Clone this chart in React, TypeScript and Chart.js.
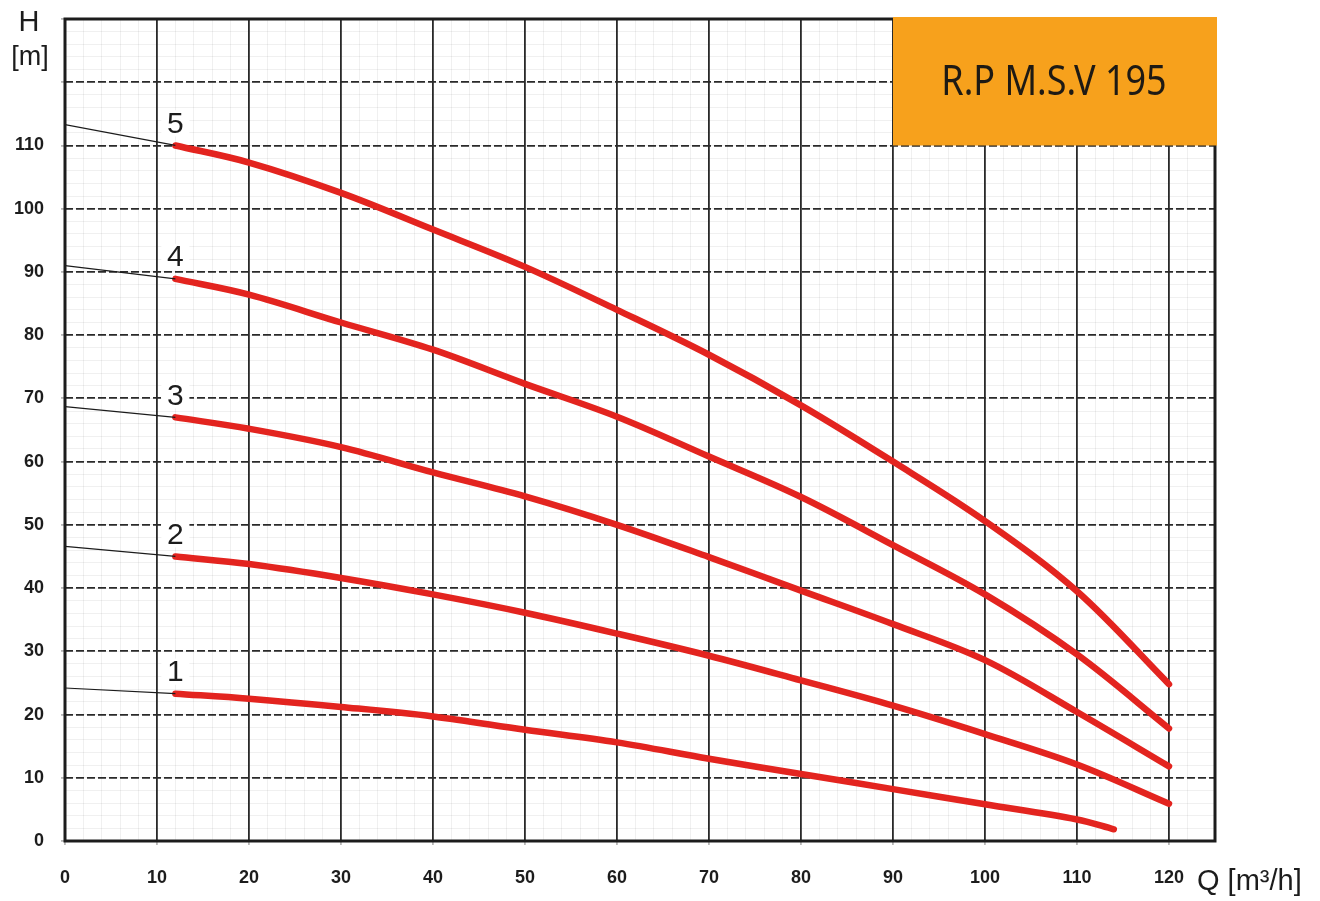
import { useEffect, useRef } from "react";
import { Chart, registerables } from "chart.js";

Chart.register(...registerables);

// Q [m³/h] sample points
const flowQ = [12, 20, 30, 40, 50, 60, 70, 80, 90, 100, 110, 120];
const flowQ1 = [12, 20, 30, 40, 50, 60, 70, 80, 90, 100, 110, 114];

// H [m] per stage count
const head1 = [23.3, 22.5, 21.2, 19.7, 17.6, 15.6, 13.0, 10.6, 8.2, 5.8, 3.4, 1.85];
const head2 = [45.0, 43.8, 41.6, 39.0, 36.1, 32.8, 29.3, 25.4, 21.4, 16.9, 12.1, 5.9];
const head3 = [67.0, 65.2, 62.3, 58.3, 54.5, 50.0, 44.9, 39.6, 34.3, 28.6, 20.4, 11.8];
const head4 = [88.9, 86.4, 82.0, 77.7, 72.3, 67.1, 60.8, 54.4, 46.8, 39.0, 29.5, 17.8];
const head5 = [110.0, 107.3, 102.5, 96.7, 90.8, 84.0, 76.9, 68.9, 60.0, 50.6, 39.5, 24.8];

// head at Q = 0 (thin black extension)
const shutoffHead = [24.2, 46.6, 68.7, 91.0, 113.3];
const curveNames = ["1", "2", "3", "4", "5"];

const xTickValues = [0, 10, 20, 30, 40, 50, 60, 70, 80, 90, 100, 110, 120];
const yTickValues = [0, 10, 20, 30, 40, 50, 60, 70, 80, 90, 100, 110, 120, 130];
const xMin = 0;
const xMax = 125;
const yMin = 0;
const yMax = 130;
const yLabelMax = 110;
const modelName = "R.P M.S.V 195";
const modelBoxQ = 90;
const modelBoxH = 110;

const RED = "#e3241f";
const INK = "#1c1c1c";

const curves = [
  { q: flowQ1, h: head1 },
  { q: flowQ, h: head2 },
  { q: flowQ, h: head3 },
  { q: flowQ, h: head4 },
  { q: flowQ, h: head5 },
];

const overlay = {
  id: "sheetOverlay",
  afterDraw(chart: Chart) {
    const { ctx, chartArea: a, scales } = chart;
    const xs = scales.x;
    const ys = scales.y;
    ctx.save();

    // frame
    ctx.strokeStyle = INK;
    ctx.lineWidth = 3;
    ctx.strokeRect(a.left, a.top, a.right - a.left, a.bottom - a.top);

    // model box
    const bx = xs.getPixelForValue(modelBoxQ);
    const by = ys.getPixelForValue(modelBoxH);
    ctx.fillStyle = "#f7a11c";
    ctx.fillRect(bx, a.top - 2, a.right + 2 - bx, by - a.top + 2);

    ctx.fillStyle = "#1e1a14";
    ctx.font = "42px 'Noto Sans', Lato, sans-serif";
    ctx.textAlign = "center";
    ctx.textBaseline = "middle";
    const cx = (bx + a.right) / 2;
    const cy = (a.top + by) / 2;
    const target = (a.right - bx) * 0.7;
    const w = ctx.measureText(modelName).width;
    const sx = w > target ? target / w : 1;
    ctx.save();
    ctx.translate(cx, cy);
    ctx.scale(sx, 1);
    ctx.fillText(modelName, 0, 1);
    ctx.restore();

    // curve numbers
    ctx.font = "30px 'Liberation Sans', Arial, sans-serif";
    curves.forEach((c, i) => {
      const px = xs.getPixelForValue(c.q[0]);
      const py = ys.getPixelForValue(c.h[0]) - 22;
      ctx.fillStyle = "#ffffff";
      ctx.fillRect(px - 14, py - 13, 28, 26);
      ctx.fillStyle = INK;
      ctx.fillText(curveNames[i], px, py + 1);
    });

    // axis titles
    ctx.fillStyle = INK;
    ctx.font = "29px 'Liberation Sans', Arial, sans-serif";
    ctx.textAlign = "center";
    ctx.fillText("H", 29, 23);
    ctx.font = "27px 'Liberation Sans', Arial, sans-serif";
    ctx.fillText("[m]", 30, 58);
    ctx.font = "29px 'Liberation Sans', Arial, sans-serif";
    ctx.textAlign = "left";
    ctx.fillText("Q [m³/h]", 1197, 882);

    ctx.restore();
  },
};

export default function App() {
  const canvasRef = useRef<HTMLCanvasElement | null>(null);

  useEffect(() => {
    document.body.style.margin = "0";
    document.body.style.background = "#ffffff";
    const canvas = canvasRef.current;
    if (!canvas) return;

    const extensions = curves.map((c, i) => ({
      data: [
        { x: 0, y: shutoffHead[i] },
        { x: c.q[0], y: c.h[0] },
      ],
      borderColor: INK,
      borderWidth: 1.2,
      pointRadius: 0,
      fill: false,
    }));

    const lines = curves.map((c) => ({
      data: c.q.map((q, j) => ({ x: q, y: c.h[j] })),
      borderColor: RED,
      borderWidth: 6.5,
      borderCapStyle: "round" as const,
      pointRadius: 0,
      tension: 0.35,
      fill: false,
    }));

    const tickFont = { family: "'Liberation Sans', Arial, sans-serif", size: 18, weight: "bold" as const };
    const minorGrid = { color: "rgba(0,0,0,0.06)", lineWidth: 1, drawTicks: false };
    const majorGrid = { color: "#2a2a2a", lineWidth: 1.8, tickLength: 4, tickColor: "#b8b8b8" };

    const chart = new Chart(canvas, {
      type: "line",
      data: { datasets: [...extensions, ...lines] },
      options: {
        animation: false,
        responsive: true,
        maintainAspectRatio: false,
        layout: { padding: { top: 19, right: 105, left: 0, bottom: 0 } },
        plugins: { legend: { display: false }, tooltip: { enabled: false } },
        scales: {
          xMinor: {
            type: "linear",
            axis: "x",
            position: "bottom",
            min: xMin,
            max: xMax,
            z: -1,
            ticks: { display: false, stepSize: 2 },
            grid: minorGrid,
            border: { display: false },
            afterFit: (s: any) => {
              s.height = 0;
              s.paddingLeft = 0;
              s.paddingRight = 0;
            },
          },
          yMinor: {
            type: "linear",
            axis: "y",
            position: "left",
            min: yMin,
            max: yMax,
            z: -1,
            ticks: { display: false, stepSize: 2 },
            grid: minorGrid,
            border: { display: false },
            afterFit: (s: any) => {
              s.width = 0;
              s.paddingTop = 0;
              s.paddingBottom = 0;
            },
          },
          x: {
            type: "linear",
            position: "bottom",
            min: xMin,
            max: xMax,
            afterBuildTicks: (s: any) => {
              s.ticks = xTickValues.map((v) => ({ value: v }));
            },
            ticks: {
              padding: 22,
              color: INK,
              font: tickFont,
              maxRotation: 0,
              autoSkip: false,
            },
            grid: majorGrid,
            border: { display: false },
            afterFit: (s: any) => {
              s.height = 60;
              s.paddingLeft = 0;
              s.paddingRight = 0;
            },
          },
          y: {
            type: "linear",
            position: "left",
            min: yMin,
            max: yMax,
            afterBuildTicks: (s: any) => {
              s.ticks = yTickValues.map((v) => ({ value: v }));
            },
            ticks: {
              padding: 17,
              color: INK,
              font: tickFont,
              autoSkip: false,
              callback: (v: any) => (Number(v) <= yLabelMax ? String(v) : ""),
            },
            grid: majorGrid,
            border: { display: false, dash: [8, 3] },
            afterFit: (s: any) => {
              s.width = 65;
              s.paddingTop = 0;
              s.paddingBottom = 0;
            },
          },
        },
      },
      plugins: [overlay],
    } as any);

    return () => {
      chart.destroy();
    };
  }, []);

  return (
    <div style={{ position: "relative", width: 1320, height: 901 }}>
      <canvas ref={canvasRef} />
    </div>
  );
}
